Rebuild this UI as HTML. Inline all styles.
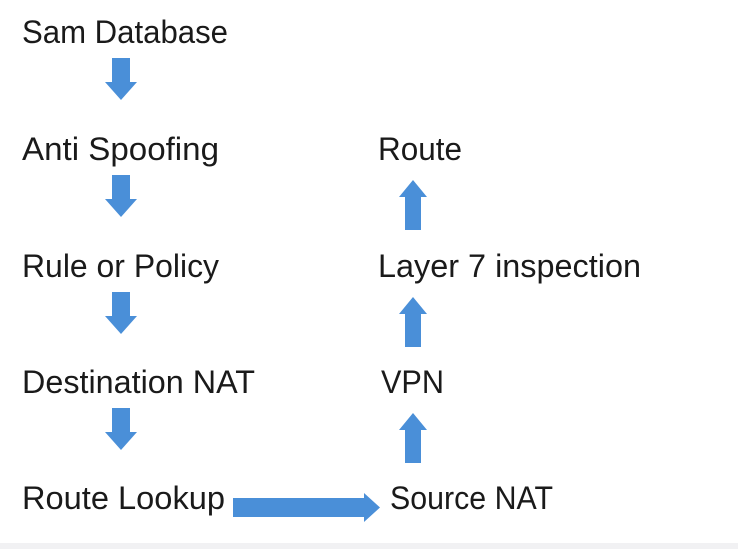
<!DOCTYPE html>
<html><head><style>
html,body{margin:0;padding:0;background:#fff;}
svg{display:block;}
text{font-family:"Liberation Sans",sans-serif;font-size:32px;fill:#1a1a1a;}
</style></head><body>
<svg width="738" height="549" viewBox="0 0 738 549">
<rect x="0" y="0" width="738" height="549" fill="#fff"/>
<rect x="0" y="543" width="738" height="6" fill="#f1f1f3"/>
<g>
<text x="22" y="43" textLength="206" lengthAdjust="spacingAndGlyphs">Sam Database</text>
<text x="22" y="160" textLength="197" lengthAdjust="spacingAndGlyphs">Anti Spoofing</text>
<text x="22" y="277" textLength="197" lengthAdjust="spacingAndGlyphs">Rule or Policy</text>
<text x="22" y="393" textLength="233" lengthAdjust="spacingAndGlyphs">Destination NAT</text>
<text x="22" y="509" textLength="203" lengthAdjust="spacingAndGlyphs">Route Lookup</text>
<text x="378" y="160" textLength="84" lengthAdjust="spacingAndGlyphs">Route</text>
<text x="378" y="277" textLength="263" lengthAdjust="spacingAndGlyphs">Layer 7 inspection</text>
<text x="381" y="393" textLength="63" lengthAdjust="spacingAndGlyphs">VPN</text>
<text x="390" y="509" textLength="163" lengthAdjust="spacingAndGlyphs">Source NAT</text>
</g>
<g fill="#4a8fd8">
<path id="d" d="M112 58 H130 V82 H137 L121 100 L105 82 H112 Z"/>
<use href="#d" y="117"/>
<use href="#d" y="234"/>
<use href="#d" y="350"/>
<path id="u" d="M405 230 V197 H399 L413 180 L427 197 H421 V230 Z"/>
<use href="#u" y="117"/>
<use href="#u" y="233"/>
<path d="M233 498 H364 V493 L380 507.5 L364 522 V517 H233 Z"/>
</g>
</svg>
</body></html>
